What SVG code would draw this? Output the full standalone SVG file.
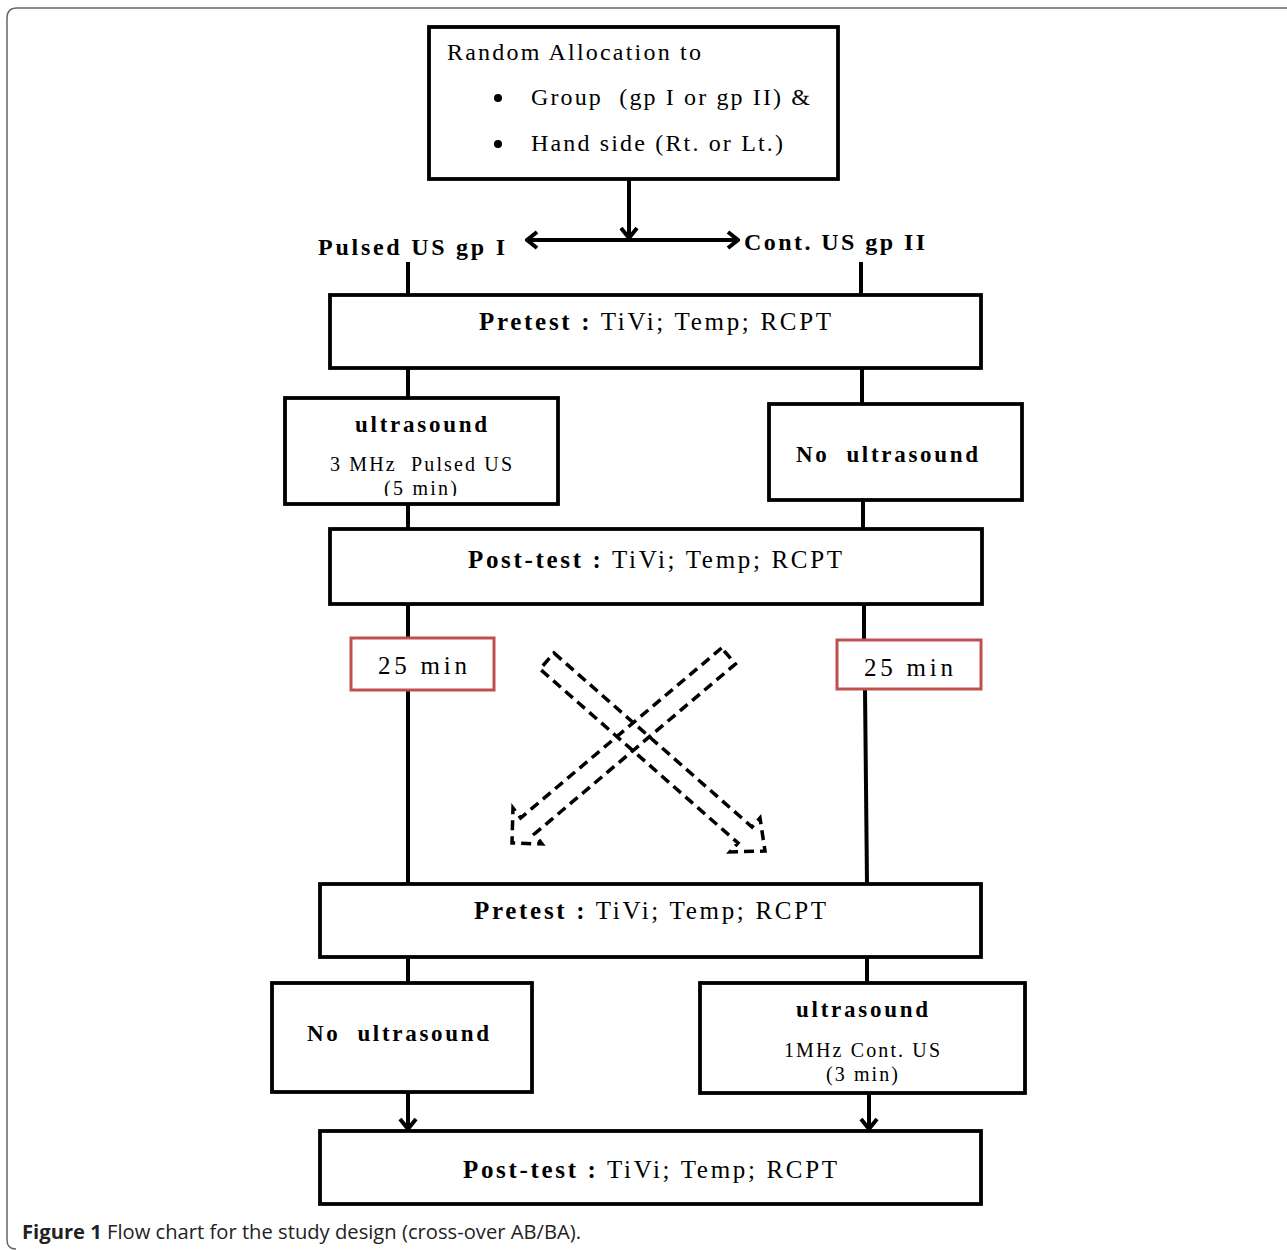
<svg xmlns="http://www.w3.org/2000/svg" width="1287" height="1250" viewBox="0 0 1287 1250">
<defs>
<style>
.box{fill:#fff;stroke:#000;stroke-width:3.8}
.red{fill:#fff;stroke:#c0504d;stroke-width:3}
.ln{fill:none;stroke:#000;stroke-width:4}
.dash{fill:none;stroke:#000;stroke-width:3.5;stroke-dasharray:10 6}
.t{font-family:"Liberation Serif","Times New Roman",serif;fill:#000}
.b{font-weight:bold}
.pre{white-space:pre}
.cap{font-family:"Open Sans","Liberation Sans",sans-serif;font-size:20px;fill:#222}
</style>
<marker id="ah" viewBox="-12 -10 14 20" markerWidth="14" markerHeight="20" refX="0" refY="0" orient="auto-start-reverse" markerUnits="userSpaceOnUse">
<path d="M-10,-8 L0,0 L-10,8" fill="none" stroke="#000" stroke-width="4"/>
</marker>
<clipPath id="clipUS"><rect x="285" y="398" width="273" height="98"/></clipPath>
</defs>

<path d="M1287,8 H17 Q7,8 7,18 V1240 Q7,1249 16,1249" fill="none" stroke="#666" stroke-width="1.5"/>

<g id="connectors">
<line class="ln" x1="629" y1="179" x2="629" y2="238" marker-end="url(#ah)"/>
<line class="ln" x1="527" y1="240" x2="738" y2="240" marker-start="url(#ah)" marker-end="url(#ah)"/>
<line class="ln" x1="408" y1="262" x2="408" y2="295"/>
<line class="ln" x1="861" y1="262" x2="861" y2="295"/>
<line class="ln" x1="408" y1="368" x2="408" y2="398"/>
<line class="ln" x1="862" y1="368" x2="862" y2="404"/>
<line class="ln" x1="408" y1="504" x2="408" y2="529"/>
<line class="ln" x1="863" y1="500" x2="863" y2="529"/>
<line class="ln" x1="408" y1="604" x2="408" y2="638"/>
<line class="ln" x1="864" y1="604" x2="864" y2="640"/>
<line class="ln" x1="408" y1="690" x2="408" y2="884"/>
<line class="ln" x1="865" y1="689" x2="867" y2="884"/>
<line class="ln" x1="408" y1="957" x2="408" y2="983"/>
<line class="ln" x1="867" y1="957" x2="867" y2="983"/>
<line class="ln" x1="408" y1="1092" x2="408" y2="1129" marker-end="url(#ah)"/>
<line class="ln" x1="869" y1="1093" x2="869" y2="1129" marker-end="url(#ah)"/>
<polygon id="crossA" class="dash" points="554,653 752,827 760,818 765,851 730,852 738,843 540,669"/>
<polygon id="crossB" class="dash" points="721.6,648 520.6,818 513,808 512,843 542,844 534.4,834 735.4,664"/>
</g>

<g id="allocation">
<rect class="box" x="429" y="27" width="409" height="152"/>
<text class="t" x="447" y="60" font-size="24" textLength="254" lengthAdjust="spacing">Random Allocation to</text>
<circle cx="498" cy="98" r="4"/>
<text class="t pre" xml:space="preserve" x="531" y="105" font-size="24" textLength="279" lengthAdjust="spacing">Group  (gp I or gp II) &amp;</text>
<circle cx="498" cy="144" r="4"/>
<text class="t" x="531" y="151" font-size="24" textLength="252" lengthAdjust="spacing">Hand side (Rt. or Lt.)</text>
</g>

<g id="label-gp1">
<text class="t b" x="318" y="255" font-size="24" textLength="187" lengthAdjust="spacing">Pulsed US gp I</text>
</g>
<g id="label-gp2">
<text class="t b" x="744" y="250" font-size="24" textLength="181" lengthAdjust="spacing">Cont. US gp II</text>
</g>

<g id="pretest1">
<rect class="box" x="330" y="295" width="651" height="73"/>
<text class="t" x="479" y="330" font-size="25" textLength="352" lengthAdjust="spacing"><tspan class="b">Pretest :</tspan> TiVi; Temp; RCPT</text>
</g>

<g id="us-pulsed">
<rect class="box" x="285" y="398" width="273" height="106"/>
<text class="t b" x="355" y="432" font-size="23" textLength="132" lengthAdjust="spacing">ultrasound</text>
<text class="t pre" xml:space="preserve" x="330" y="471" font-size="20" textLength="182" lengthAdjust="spacing">3 MHz  Pulsed US</text>
<text class="t" x="384" y="495" font-size="20" textLength="73" lengthAdjust="spacing" clip-path="url(#clipUS)">(5 min)</text>
</g>

<g id="no-us-1">
<rect class="box" x="769" y="404" width="253" height="96"/>
<text class="t b pre" xml:space="preserve" x="796" y="462" font-size="23" textLength="182" lengthAdjust="spacing">No  ultrasound</text>
</g>

<g id="posttest1">
<rect class="box" x="330" y="529" width="652" height="75"/>
<text class="t" x="468" y="568" font-size="25" textLength="374" lengthAdjust="spacing"><tspan class="b">Post-test :</tspan> TiVi; Temp; RCPT</text>
</g>

<g id="wait-left">
<rect class="red" x="351" y="638" width="143" height="52"/>
<text class="t" x="378" y="674" font-size="25" textLength="89" lengthAdjust="spacing">25 min</text>
</g>
<g id="wait-right">
<rect class="red" x="837" y="640" width="144" height="49"/>
<text class="t" x="864" y="676" font-size="25" textLength="89" lengthAdjust="spacing">25 min</text>
</g>

<g id="pretest2">
<rect class="box" x="320" y="884" width="661" height="73"/>
<text class="t" x="474" y="919" font-size="25" textLength="352" lengthAdjust="spacing"><tspan class="b">Pretest :</tspan> TiVi; Temp; RCPT</text>
</g>

<g id="no-us-2">
<rect class="box" x="272" y="983" width="260" height="109"/>
<text class="t b pre" xml:space="preserve" x="307" y="1041" font-size="23" textLength="182" lengthAdjust="spacing">No  ultrasound</text>
</g>

<g id="us-cont">
<rect class="box" x="700" y="983" width="325" height="110"/>
<text class="t b" x="796" y="1017" font-size="23" textLength="132" lengthAdjust="spacing">ultrasound</text>
<text class="t" x="784" y="1057" font-size="20" textLength="156" lengthAdjust="spacing">1MHz Cont. US</text>
<text class="t" x="826" y="1081" font-size="20" textLength="72" lengthAdjust="spacing">(3 min)</text>
</g>

<g id="posttest2">
<rect class="box" x="320" y="1131" width="661" height="73"/>
<text class="t" x="463" y="1178" font-size="25" textLength="374" lengthAdjust="spacing"><tspan class="b">Post-test :</tspan> TiVi; Temp; RCPT</text>
</g>

<text class="cap" x="22" y="1239" textLength="559" lengthAdjust="spacingAndGlyphs"><tspan font-weight="bold">Figure 1</tspan> Flow chart for the study design (cross-over AB/BA).</text>
</svg>
